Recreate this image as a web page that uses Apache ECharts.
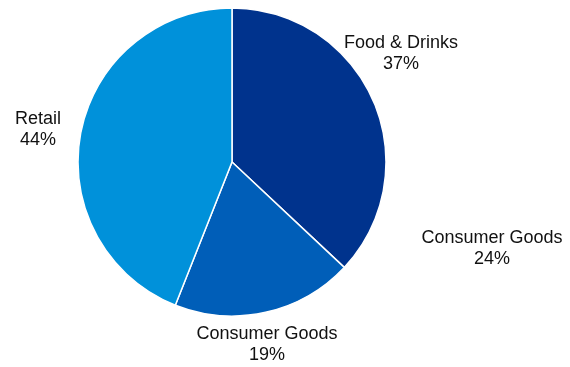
<!DOCTYPE html>
<html>
<head>
<meta charset="utf-8">
<script src="https://cdn.jsdelivr.net/npm/echarts@6/dist/echarts.min.js"></script>
<style>
  html, body { margin: 0; padding: 0; background: #fff; }
  #chart { width: 570px; height: 367px; }
</style>
</head>
<body>
<div id="chart"></div>
<script>
// Sector shares (percent)
const categories = ['Food & Drinks', 'Consumer Goods', 'Retail'];
const shares = [37, 19, 44];
const sliceColors = ['#00338D', '#005EB8', '#0091DA'];

// Stand-alone annotation shown beside the pie
const noteName = 'Consumer Goods';
const noteShare = 24;

// Label anchor points (text centre), one per slice
const labelAnchors = [[401, 54], [267, 345], [38, 130]];

const FONT = '"Liberation Sans", Arial, sans-serif';

const chart = echarts.init(document.getElementById('chart'), null, { renderer: 'canvas' });

chart.setOption({
  animation: false,
  backgroundColor: '#ffffff',
  series: [{
    type: 'pie',
    center: [232, 162],
    radius: 154,
    startAngle: 90,
    clockwise: true,
    avoidLabelOverlap: false,
    itemStyle: { borderColor: '#ffffff', borderWidth: 1.5 },
    label: {
      show: true,
      position: 'outside',
      formatter: p => p.name + '\n' + p.value + '%',
      fontFamily: FONT,
      fontSize: 18,
      lineHeight: 21,
      color: '#111',
      align: 'center'
    },
    labelLine: { show: false },
    labelLayout: p => ({
      x: labelAnchors[p.dataIndex][0],
      y: labelAnchors[p.dataIndex][1],
      align: 'center',
      verticalAlign: 'middle'
    }),
    emphasis: { disabled: true },
    data: categories.map((c, i) => ({
      name: c,
      value: shares[i],
      itemStyle: { color: sliceColors[i] }
    }))
  }],
  graphic: [{
    type: 'text',
    x: 492,
    y: 249,
    style: {
      text: noteName + '\n' + noteShare + '%',
      font: '18px ' + FONT,
      lineHeight: 21,
      fill: '#111',
      align: 'center',
      verticalAlign: 'middle'
    }
  }]
});
</script>
</body>
</html>
